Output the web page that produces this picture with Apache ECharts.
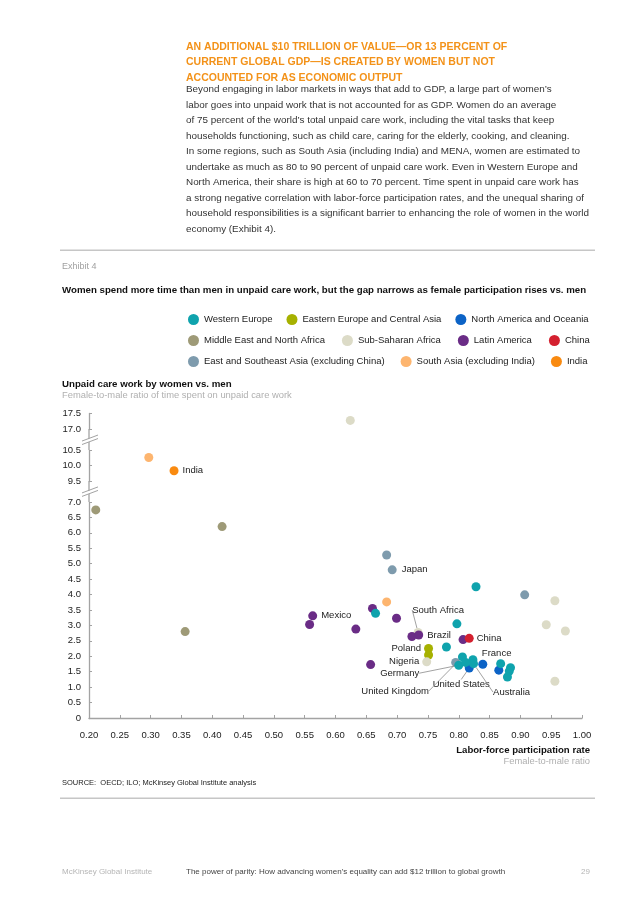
<!DOCTYPE html>
<html><head><meta charset="utf-8">
<script src="https://cdn.jsdelivr.net/npm/echarts@6/dist/echarts.min.js"></script>
<style>html,body{margin:0;padding:0;background:#fff}#c{width:636px;height:900px}</style>
</head><body><div id="c"></div>
<script>
// ---------- data ----------
const regionNames = [
  'Western Europe', 'Eastern Europe and Central Asia', 'North America and Oceania',
  'Middle East and North Africa', 'Sub-Saharan Africa', 'Latin America', 'China',
  'East and Southeast Asia (excluding China)', 'South Asia (excluding India)', 'India'
];
// [labor-force participation ratio, unpaid care ratio, optional country label]
const westernEurope = [[0.665,3.39],[0.828,4.25],[0.797,3.05],[0.780,2.30],[0.806,1.98,'United Kingdom'],
  [0.800,1.71,'Germany'],[0.811,1.80],[0.823,1.89],[0.824,1.76,'Australia'],[0.868,1.76,'France'],
  [0.884,1.63],[0.882,1.52],[0.879,1.33]];
const easternEurope = [[0.751,2.25,'Poland'],[0.751,2.04]];
const northAmerica = [[0.817,1.62,'United States'],[0.839,1.74],[0.865,1.55]];
const mena = [[0.211,6.74],[0.416,6.20],[0.356,2.80]];
const subSaharan = [[0.624,17.28],[0.956,3.80],[0.942,3.02],[0.973,2.82],[0.956,1.19],
  [0.734,2.77,'South Africa'],[0.748,1.82,'Nigeria']];
const latinAmerica = [[0.563,3.31,'Mexico'],[0.558,3.03],[0.633,2.88],[0.660,3.55],[0.699,3.23],
  [0.724,2.64],[0.735,2.69,'Brazil'],[0.807,2.54],[0.657,1.73]];
const china = [[0.817,2.58,'China']];
const eastAsia = [[0.683,5.28],[0.692,4.80,'Japan'],[0.907,3.99],[0.795,1.80]];
const southAsia = [[0.297,10.26],[0.683,3.76]];
const india = [[0.338,9.83,'India']];
const regionData = [westernEurope, easternEurope, northAmerica, mena, subSaharan,
  latinAmerica, china, eastAsia, southAsia, india];
const regionColors = ['#0fa3ad','#a6b100','#0c63c6','#9e9a77','#dcdbc7','#6a2c86','#d4202f',
  '#7e9bad','#fdb56f','#f98a10'];
const xMin = 0.20, xMax = 1.00, xInterval = 0.05;
const yMin = 0, yMax = 17.5, yInterval = 0.5;
const yBreaks = [{start: 7.0, end: 9.5}, {start: 10.5, end: 17.0}];
const legendRows = [
  ['Western Europe', 'Eastern Europe and Central Asia', 'North America and Oceania'],
  ['Middle East and North Africa', 'Sub-Saharan Africa', 'Latin America', 'China'],
  ['East and Southeast Asia (excluding China)', 'South Asia (excluding India)', 'India']
];

// ---------- label styling (layout only) ----------
const FONT = '"Liberation Sans", Arial, sans-serif';
const labelStyle = {
  'India': {position: 'right', distance: 4},
  'Japan': {position: 'right', distance: 5},
  'Mexico': {position: 'right', distance: 4},
  'Brazil': {position: 'right', distance: 4},
  'China': {position: 'right', distance: 3},
  'Poland': {position: 'left', distance: 3},
  'Nigeria': {position: 'left', distance: 3},
  'France': {position: 'top', distance: 3, dx: -4, dy: 2},
  'South Africa': {position: 'top', distance: 4, dx: 20, dy: -9, line: true},
  'Germany': {position: 'left', distance: 5, dx: -30, dy: 8, line: true},
  'United Kingdom': {position: 'left', distance: 5, dx: -24, dy: 34, line: true},
  'United States': {position: 'bottom', distance: 4, dx: -8, dy: 3, line: true},
  'Australia': {position: 'bottom', distance: 4, dx: 38, dy: 15, line: true}
};

const series = regionNames.map((name, i) => ({
  name: name,
  type: 'scatter',
  symbolSize: 9,
  itemStyle: {color: regionColors[i], opacity: 1},
  z: name === 'Western Europe' ? 3 : 2,
  labelLine: {show: true, lineStyle: {color: '#8a8a8a', width: 0.8}},
  labelLayout: function (p) {
    const d = regionData[p.seriesIndex] && regionData[p.seriesIndex][p.dataIndex];
    const s = d && d[2] ? labelStyle[d[2]] : null;
    if (!s) return {};
    return {dx: s.dx || 0, dy: s.dy || 0};
  },
  data: regionData[i].map(d => {
    const item = {value: [d[0], d[1]]};
    if (d[2]) {
      const s = labelStyle[d[2]];
      item.name = d[2];
      item.label = {show: true, formatter: d[2], position: s.position, distance: s.distance,
        color: '#222', fontSize: 9.5, fontFamily: FONT};
      item.labelLine = {show: !!s.line, lineStyle: {color: '#8a8a8a', width: 0.8}};
    }
    return item;
  })
}));

const headText = 'AN ADDITIONAL $10 TRILLION OF VALUE\u2014OR 13 PERCENT OF\nCURRENT GLOBAL GDP\u2014IS CREATED BY WOMEN BUT NOT\nACCOUNTED FOR AS ECONOMIC OUTPUT';
const bodyText = [
  'Beyond engaging in labor markets in ways that add to GDP, a large part of women\u2019s',
  'labor goes into unpaid work that is not accounted for as GDP. Women do an average',
  'of 75 percent of the world\u2019s total unpaid care work, including the vital tasks that keep',
  'households functioning, such as child care, caring for the elderly, cooking, and cleaning.',
  'In some regions, such as South Asia (including India) and MENA, women are estimated to',
  'undertake as much as 80 to 90 percent of unpaid care work. Even in Western Europe and',
  'North America, their share is high at 60 to 70 percent. Time spent in unpaid care work has',
  'a strong negative correlation with labor-force participation rates, and the unequal sharing of',
  'household responsibilities is a significant barrier to enhancing the role of women in the world',
  'economy (Exhibit 4).'
].join('\n');

const legendGaps = [14, 17, 16];
const legends = legendRows.map((row, r) => ({
  data: row,
  left: 183,
  top: 309 + r * 21,
  orient: 'horizontal',
  icon: 'circle',
  itemWidth: 11, itemHeight: 11,
  itemGap: legendGaps[r],
  textStyle: {color: '#222', fontSize: 9.5, fontFamily: FONT}
}));

const chart = echarts.init(document.getElementById('c'), null, {renderer: 'canvas'});
const option = {
  backgroundColor: '#fff',
  animation: false,
  textStyle: {fontFamily: FONT},
  legend: legends,
  grid: {left: 89, right: 54, top: 413.6, bottom: 182, containLabel: false},
  xAxis: {
    type: 'value', min: xMin, max: xMax, interval: xInterval,
    axisLine: {show: true, lineStyle: {color: '#a3a3a3', width: 1.3}},
    axisTick: {show: true, inside: true, length: 3, lineStyle: {color: '#a3a3a3'}},
    splitLine: {show: false},
    axisLabel: {color: '#222', fontSize: 9.5, margin: 12, formatter: v => v.toFixed(2)}
  },
  yAxis: {
    type: 'value', min: yMin, max: yMax, interval: yInterval,
    breaks: yBreaks.map(b => ({start: b.start, end: b.end, gap: '6.9%'})),
    breakArea: {show: false},
    axisLine: {show: true, lineStyle: {color: '#a3a3a3', width: 1.3}},
    axisTick: {show: true, inside: true, length: 3, lineStyle: {color: '#a3a3a3'}},
    splitLine: {show: false},
    axisLabel: {color: '#222', fontSize: 9.5, margin: 8,
      formatter: v => v === 0 ? '0' : v.toFixed(1)}
  },
  series: series,
  graphic: [
    {type: 'text', left: 186, top: 39, style: {text: headText, font: 'bold 10.5px ' + FONT, fill: '#f39219', lineHeight: 15.5}},
    {type: 'text', left: 186, top: 82, style: {text: bodyText, font: '9.9px ' + FONT, fill: '#333', lineHeight: 15.5}},
    {type: 'rect', shape: {x: 60, y: 249.5, width: 535, height: 1.4}, style: {fill: '#c6c6c6'}},
    {type: 'text', left: 62, top: 262, style: {text: 'Exhibit 4', font: '9px ' + FONT, fill: '#a0a0a0'}},
    {type: 'text', left: 62, top: 285, style: {text: 'Women spend more time than men in unpaid care work, but the gap narrows as female participation rises vs. men', font: 'bold 9.7px ' + FONT, fill: '#111'}},
    {type: 'text', left: 62, top: 379, style: {text: 'Unpaid care work by women vs. men', font: 'bold 9.7px ' + FONT, fill: '#111'}},
    {type: 'text', left: 62, top: 391, style: {text: 'Female-to-male ratio of time spent on unpaid care work', font: '9.4px ' + FONT, fill: '#b0b0b0'}},
    {type: 'text', right: 46, top: 745, style: {text: 'Labor-force participation rate', font: 'bold 9.6px ' + FONT, fill: '#111', align: 'right'}},
    {type: 'text', right: 46, top: 757, style: {text: 'Female-to-male ratio', font: '9.4px ' + FONT, fill: '#b0b0b0', align: 'right'}},
    {type: 'text', left: 62, top: 779, style: {text: 'SOURCE:  OECD; ILO; McKinsey Global Institute analysis', font: '7.5px ' + FONT, fill: '#222'}},
    {type: 'rect', shape: {x: 60, y: 797.5, width: 535, height: 1.4}, style: {fill: '#c6c6c6'}},
    {type: 'text', left: 62, top: 868, style: {text: 'McKinsey Global Institute', font: '8px ' + FONT, fill: '#b5b5b5'}},
    {type: 'text', left: 186, top: 868, style: {text: 'The power of parity: How advancing women\u2019s equality can add $12 trillion to global growth', font: '8px ' + FONT, fill: '#444'}},
    {type: 'text', right: 46, top: 868, style: {text: '29', font: '8px ' + FONT, fill: '#b5b5b5', align: 'right'}}
  ]
};
chart.setOption(option);

// axis-break marks (style only) placed through the axis scale
const ax = chart.convertToPixel({xAxisIndex: 0}, xMin);
const marks = [];
yBreaks.forEach(b => {
  const p1 = chart.convertToPixel({yAxisIndex: 0}, b.start);
  const p2 = chart.convertToPixel({yAxisIndex: 0}, b.end);
  const ym = (p1 + p2) / 2;
  marks.push({type: 'line', shape: {x1: ax, y1: p1, x2: ax, y2: p2}, style: {stroke: '#a3a3a3', lineWidth: 1.3}, z: 99});
  marks.push({type: 'polygon', shape: {points: [[ax - 7, ym + 2], [ax + 9, ym - 4], [ax + 9, ym - 1], [ax - 7, ym + 5]]}, style: {fill: '#fff'}, z: 100});
  marks.push({type: 'line', shape: {x1: ax - 7, y1: ym + 1.5, x2: ax + 9, y2: ym - 4.5}, style: {stroke: '#a3a3a3', lineWidth: 1}, z: 101});
  marks.push({type: 'line', shape: {x1: ax - 7, y1: ym + 5, x2: ax + 9, y2: ym - 1}, style: {stroke: '#a3a3a3', lineWidth: 1}, z: 101});
});
chart.setOption({graphic: option.graphic.concat(marks)});
</script></body></html>
